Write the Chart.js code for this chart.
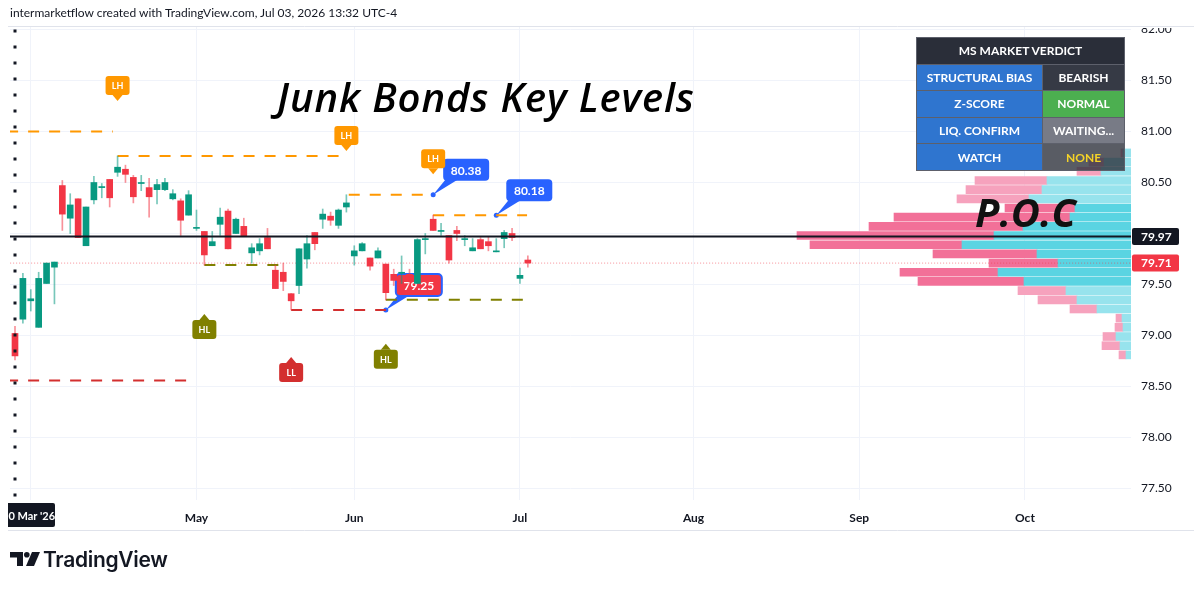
<!DOCTYPE html>
<html>
<head>
<meta charset="utf-8">
<script src="https://cdn.jsdelivr.net/npm/chart.js@4.4.1/dist/chart.umd.min.js"></script>
<style>
html, body { margin: 0; padding: 0; background: #fff; }
#wrap { position: relative; width: 1194px; height: 591px; overflow: hidden; font-family: Lato, "Open Sans", sans-serif; color: #131722; }
#chart { position: absolute; left: 0; top: 0; }
#hdr { position: absolute; left: 10px; top: 5px; font-size: 12px; line-height: 15px; white-space: nowrap; }
#title { position: absolute; left: 277px; top: 71px; font-family: "Open Sans", sans-serif; font-size: 40px; line-height: 52px; font-style: italic; font-weight: 600; letter-spacing: 0.9px; color: #000; white-space: nowrap; }
#poc { position: absolute; left: 975px; top: 186px; font-family: "Open Sans", sans-serif; font-size: 40px; line-height: 52px; font-style: italic; font-weight: 700; color: #111; }
#verdict { position: absolute; left: 916px; top: 37px; border-collapse: collapse; font-size: 12px; font-weight: bold; color: #fff; text-align: center; }
#verdict td { height: 25.6px; padding: 0 4px; border: 1px solid #5d606b; white-space: nowrap; }
#verdict td.k { width: 117px; background: #2f75cf; }
#verdict td.v { width: 73px; }
#logo { position: absolute; left: 10px; top: 546px; height: 26px; display: flex; align-items: center; }
#logo span { font-family: Inter, Lato, sans-serif; font-weight: 600; font-size: 21px; margin-left: 3px; letter-spacing: -0.3px; }
</style>
</head>
<body>
<div id="wrap">
  <canvas id="chart" width="1194" height="591"></canvas>
  <div id="hdr">intermarketflow created with TradingView.com, Jul 03, 2026 13:32 UTC-4</div>
  <div id="title">Junk Bonds Key Levels</div>
  <div id="poc">P.O.C</div>
  <table id="verdict"></table>
  <div id="logo">
    <svg width="30" height="14" viewBox="0 0 30 14"><path d="M0 0h13v14H7V5.5H0z" fill="#131722"/><circle cx="16.8" cy="2.8" r="2.8" fill="#131722"/><path d="M22 0h8l-6 14h-8z" fill="#131722"/></svg>
    <span>TradingView</span>
  </div>
</div>
<script>
// daily candles, index 0 = 30 Mar 2026 (trading days)
const opens  = [79.02,79.16,79.34,79.08,79.51,79.67,80.47,80.15,80.34,79.88,80.33,80.45,80.53,80.60,80.63,80.55,80.49,80.45,80.43,80.43,
                80.34,80.32,80.18,80.05,80.02,79.88,80.09,80.22,80.00,80.07,79.81,79.83,79.96,79.64,79.62,79.41,79.49,79.75,80.01,80.14,
                80.17,80.08,80.26,79.78,79.83,79.76,79.76,79.70,79.60,79.61,79.60,79.51,79.94,80.14,80.02,79.98,80.03,79.94,79.83,79.94,
                79.92,79.82,79.95,80.00,79.56,79.74];
const highs  = [79.09,79.61,79.45,79.62,79.71,79.72,80.52,80.39,80.34,80.26,80.56,80.49,80.53,80.76,80.67,80.57,80.57,80.54,80.53,80.54,
                80.43,80.34,80.42,80.23,80.02,80.02,80.25,80.24,80.15,80.15,79.90,79.95,80.05,79.69,79.71,79.41,79.85,79.98,80.01,80.24,
                80.21,80.24,80.38,79.88,79.91,79.76,79.86,79.70,79.65,79.78,79.65,79.95,80.00,80.18,80.10,79.98,80.07,79.98,79.95,79.96,
                79.97,79.95,80.03,80.05,79.66,79.78];
const lows   = [78.76,79.12,79.24,79.08,79.51,79.31,80.03,80.00,79.96,79.88,80.29,80.35,80.26,80.56,80.50,80.30,80.42,80.16,80.29,80.42,
                80.33,79.98,80.18,80.03,79.69,79.88,79.98,79.85,80.00,79.97,79.71,79.79,79.85,79.46,79.44,79.25,79.41,79.66,79.84,80.05,
                80.08,80.05,80.21,79.69,79.83,79.64,79.76,79.35,79.49,79.51,79.48,79.51,79.80,80.03,79.98,79.71,79.93,79.88,79.83,79.85,
                79.83,79.82,79.86,79.93,79.51,79.67];
const closes = [78.80,79.56,79.36,79.56,79.71,79.72,80.19,80.28,79.96,80.26,80.50,80.46,80.35,80.65,80.58,80.36,80.50,80.36,80.48,80.50,
                80.39,80.13,80.38,80.06,79.79,79.92,80.16,79.85,80.14,79.97,79.86,79.90,79.85,79.46,79.53,79.34,79.85,79.90,79.90,80.19,
                80.13,80.23,80.30,79.83,79.90,79.68,79.83,79.42,79.54,79.62,79.55,79.94,79.95,80.03,80.03,79.74,80.00,79.95,79.86,79.85,
                79.88,79.83,80.01,79.96,79.59,79.71];

const monthTicks  = [2, 23, 43, 64, 86, 107, 128];
const monthLabels = ['', 'May', 'Jun', 'Jul', 'Aug', 'Sep', 'Oct'];
const priceTicks  = [77.5, 78, 78.5, 79, 79.5, 80, 80.5, 81, 81.5, 82];

// volume profile rows (top to bottom)
const profilePrices = [80.79,80.70,80.61,80.52,80.43,80.34,80.25,80.16,80.07,79.98,79.89,79.80,79.71,79.62,79.53,79.44,79.35,79.26,79.17,79.08,78.99,78.90,78.81];
const profileBuy    = [8, 27, 30, 84, 89, 102, 56, 61, 108, 137, 169, 94, 73, 133, 107, 65, 54, 34, 9, 8, 15, 11, 5];
const profileSell   = [2, 15, 24, 72, 76, 72, 70, 176, 154, 197, 152, 104, 69, 98, 106, 48, 39, 27, 6, 8, 13, 18, 7];
const valueAreaHigh = 80.30;
const valueAreaLow  = 79.48;

const pocPrice  = 79.97;
const lastPrice = 79.71;

// swing levels
const levelPrice = [81.00, 80.76, 80.38, 80.18, 79.69, 79.25, 79.35, 78.56];
const levelFrom  = [-1, 13, 42.3, 53, 24, 35, 47, -1];
const levelTo    = [12.4, 41.8, 52.9, 64.9, 33.6, 47, 65, 22.9];
const levelType  = ['LH', 'LH', 'LH', 'LH', 'HL', 'LL', 'HL', 'LL'];

// pivot tags
const tagText  = ['LH', 'LH', 'LH', 'HL', 'LL', 'HL'];
const tagBar   = [13, 42, 53, 24, 35, 47];
const tagPrice = [81.30, 80.81, 80.58, 79.21, 78.79, 78.92];

// price callouts
const calloutBar   = [53, 61, 47];
const calloutPrice = [80.38, 80.18, 79.25];

const verdictKeys   = ['STRUCTURAL BIAS', 'Z-SCORE', 'LIQ. CONFIRM', 'WATCH'];
const verdictValues = ['BEARISH', 'NORMAL', 'WAITING...', 'NONE'];

const upColor = '#089981', downColor = '#f23645';
const typeColor = { LH: '#ff9800', HL: '#808000', LL: '#d32f2f' };

// table
const tbl = document.getElementById('verdict');
const cellBg = ['#363a45', '#4caf50', '#787b86', 'rgba(42,46,57,0.78)'];
let html = '<tr><td colspan="2" style="background:#2a2e39">MS MARKET VERDICT</td></tr>';
verdictKeys.forEach((k, i) => {
    let col = i === 3 ? '#f5d327' : '#fff';
    html += '<tr><td class="k">' + k + '</td><td class="v" style="background:' + cellBg[i] + ';color:' + col + '">' + verdictValues[i] + '</td></tr>';
});
tbl.innerHTML = html;

const idx = opens.map((_, i) => i);
const isUp = i => closes[i] >= opens[i];
const inVA = p => p <= valueAreaHigh && p >= valueAreaLow;

const datasets = [
    {
        type: 'bar', label: 'bodies', order: 2, grouped: false, barThickness: 6, minBarLength: 1,
        data: idx.map(i => ({ x: i, y: [opens[i], closes[i]] })),
        backgroundColor: idx.map(i => isUp(i) ? upColor : downColor)
    },
    {
        type: 'bar', label: 'wicks', order: 3, grouped: false, barThickness: 1,
        data: idx.map(i => ({ x: i, y: [lows[i], highs[i]] })),
        backgroundColor: idx.map(i => isUp(i) ? 'rgba(8,153,129,0.55)' : 'rgba(242,54,69,0.55)')
    },
    {
        type: 'bar', label: 'buyVol', order: 7, grouped: false, indexAxis: 'y', xAxisID: 'xv', yAxisID: 'y', barThickness: 8,
        data: profilePrices.map((p, i) => ({ y: p, x: [0, profileBuy[i]] })),
        backgroundColor: profilePrices.map(p => inVA(p) ? '#5ad4e2' : '#97e3ed')
    },
    {
        type: 'bar', label: 'sellVol', order: 7, grouped: false, indexAxis: 'y', xAxisID: 'xv', yAxisID: 'y', barThickness: 8,
        data: profilePrices.map((p, i) => ({ y: p, x: [profileBuy[i], profileBuy[i] + profileSell[i]] })),
        backgroundColor: profilePrices.map(p => inVA(p) ? '#f27098' : '#f6a2bd')
    },
    {
        type: 'line', label: 'poc', order: 1, borderColor: '#131722', borderWidth: 2, pointRadius: 0,
        data: [{ x: -1, y: pocPrice }, { x: 142, y: pocPrice }]
    },
    {
        type: 'line', label: 'last', order: 5, borderColor: 'rgba(242,54,69,0.55)', borderWidth: 1, borderDash: [1, 2], pointRadius: 0,
        data: [{ x: -1, y: lastPrice }, { x: 142, y: lastPrice }]
    },
    {
        type: 'line', label: 'vline', order: 1, borderColor: '#131722', borderWidth: 3, borderDash: [3, 13], pointRadius: 0,
        data: [{ x: 0, y: 82.0 }, { x: 0, y: 77.3 }]
    }
];
levelPrice.forEach((p, i) => {
    datasets.push({
        type: 'line', label: 'level' + i, order: 4, borderColor: typeColor[levelType[i]], borderWidth: 2, borderDash: [11, 10],
        pointRadius: 0, data: [{ x: levelFrom[i], y: p }, { x: levelTo[i], y: p }]
    });
});

function rrect(ctx, x, y, w, h, r) {
    ctx.beginPath();
    ctx.roundRect(x, y, w, h, r);
}

const calloutPlugin = {
    id: 'callouts',
    beforeDatasetsDraw(chart) {
        const ctx = chart.ctx, xs = chart.scales.x, ys = chart.scales.y;
        calloutBar.forEach((b, i) => {
            const ax = xs.getPixelForValue(b), ay = ys.getPixelForValue(calloutPrice[i]);
            const bx = ax + 10, by = ay - 36, w = 46, h = 22;
            const red = i === 2;
            ctx.save();
            ctx.fillStyle = '#2962ff';
            ctx.beginPath();
            ctx.moveTo(ax, ay);
            ctx.lineTo(bx + 3, by + h - 2);
            ctx.lineTo(bx + 16, by + h - 2);
            ctx.closePath();
            ctx.fill();
            rrect(ctx, bx, by, w, h, 4);
            ctx.fillStyle = red ? downColor : '#2962ff';
            ctx.fill();
            if (red) { ctx.lineWidth = 2; ctx.strokeStyle = '#2962ff'; ctx.stroke(); }
            ctx.beginPath();
            ctx.arc(ax, ay, 2.5, 0, Math.PI * 2);
            ctx.fillStyle = '#2962ff';
            ctx.fill();
            ctx.fillStyle = '#fff';
            ctx.font = 'bold 12px Lato';
            ctx.textAlign = 'center';
            ctx.textBaseline = 'middle';
            ctx.fillText(calloutPrice[i].toFixed(2), bx + w / 2, by + h / 2 + 1);
            ctx.restore();
        });
    },
    afterDraw(chart) {
        const ctx = chart.ctx, xs = chart.scales.x, ys = chart.scales.y, area = chart.chartArea;
        ctx.save();
        // pivot tags
        tagText.forEach((t, i) => {
            const x = xs.getPixelForValue(tagBar[i]), tip = ys.getPixelForValue(tagPrice[i]);
            const down = t === 'LH';
            const w = 24, h = 19, tri = 6;
            const top = down ? tip - tri - h : tip + tri;
            ctx.fillStyle = typeColor[t];
            rrect(ctx, x - w / 2, top, w, h, 3);
            ctx.fill();
            ctx.beginPath();
            if (down) { ctx.moveTo(x - 5, top + h); ctx.lineTo(x + 5, top + h); }
            else { ctx.moveTo(x - 5, top); ctx.lineTo(x + 5, top); }
            ctx.lineTo(x, tip);
            ctx.closePath();
            ctx.fill();
            ctx.fillStyle = '#fff';
            ctx.font = 'bold 9px Lato';
            ctx.textAlign = 'center';
            ctx.textBaseline = 'middle';
            ctx.fillText(t, x, top + h / 2 + 0.5);
        });
        // clip top of price axis
        ctx.fillStyle = '#fff';
        ctx.fillRect(area.right, 0, chart.width - area.right, area.top + 1);
        // frame lines
        ctx.strokeStyle = '#e0e3eb';
        ctx.lineWidth = 1;
        ctx.beginPath();
        ctx.moveTo(8, area.top - 0.5); ctx.lineTo(chart.width, area.top - 0.5);
        ctx.moveTo(8, 530.5); ctx.lineTo(chart.width, 530.5);
        ctx.stroke();
        // price labels
        [[pocPrice, '#131722'], [lastPrice, downColor]].forEach(([p, c]) => {
            const y = ys.getPixelForValue(p);
            ctx.fillStyle = c;
            rrect(ctx, area.right + 1, y - 8.5, 47, 17, 2);
            ctx.fill();
            ctx.fillStyle = '#fff';
            ctx.font = 'bold 12px Lato';
            ctx.textAlign = 'left';
            ctx.textBaseline = 'middle';
            ctx.fillText(p.toFixed(2), area.right + 10, y + 0.5);
        });
        // first date label
        ctx.beginPath();
        ctx.rect(8, area.bottom, 100, 40);
        ctx.clip();
        ctx.fillStyle = '#131722';
        rrect(ctx, 2, 503, 53, 24, 2);
        ctx.fill();
        ctx.fillStyle = '#fff';
        ctx.font = 'bold 11px Lato';
        ctx.textAlign = 'left';
        ctx.textBaseline = 'middle';
        ctx.fillText("30 Mar '26", 2, 516);
        ctx.restore();
    }
};

const bgPlugin = {
    id: 'bg',
    beforeDraw(chart) {
        chart.ctx.save();
        chart.ctx.fillStyle = '#fff';
        chart.ctx.fillRect(0, 0, chart.width, chart.height);
        chart.ctx.restore();
    }
};

const barGap = 7.89;
const xMin = -5 / barGap;

new Chart(document.getElementById('chart'), {
    type: 'bar',
    data: { datasets: datasets },
    plugins: [bgPlugin, calloutPlugin],
    options: {
        responsive: false,
        animation: false,
        devicePixelRatio: 1,
        layout: { padding: { top: 27, left: 10, right: 0, bottom: 61 } },
        plugins: { legend: { display: false }, tooltip: { enabled: false } },
        scales: {
            x: {
                type: 'linear', offset: false, min: xMin, max: xMin + 1121 / barGap,
                grid: { color: '#f0f3fa', drawTicks: false, offset: false },
                border: { display: false },
                afterBuildTicks: s => { s.ticks = monthTicks.map(v => ({ value: v })); },
                afterFit: s => { s.height = 30; },
                ticks: {
                    padding: 11, color: '#131722', font: { family: 'Lato', size: 12, weight: 'bold' },
                    maxRotation: 0, autoSkip: false,
                    callback: v => monthLabels[monthTicks.indexOf(v)]
                }
            },
            xv: { type: 'linear', axis: 'x', offset: false, reverse: true, min: 0, max: 1121, display: false },
            y: {
                type: 'linear', position: 'right', offset: false, min: 82 - 470.5 / 102, max: 82 + 2.5 / 102,
                grid: { color: '#f0f3fa', drawTicks: false, offset: false },
                border: { display: false },
                afterBuildTicks: s => { s.ticks = priceTicks.map(v => ({ value: v })); },
                afterFit: s => { s.width = 63; },
                ticks: {
                    padding: 10, color: '#131722', font: { family: 'Lato', size: 12 },
                    callback: v => v.toFixed(2)
                }
            }
        }
    }
});
</script>
</body>
</html>
